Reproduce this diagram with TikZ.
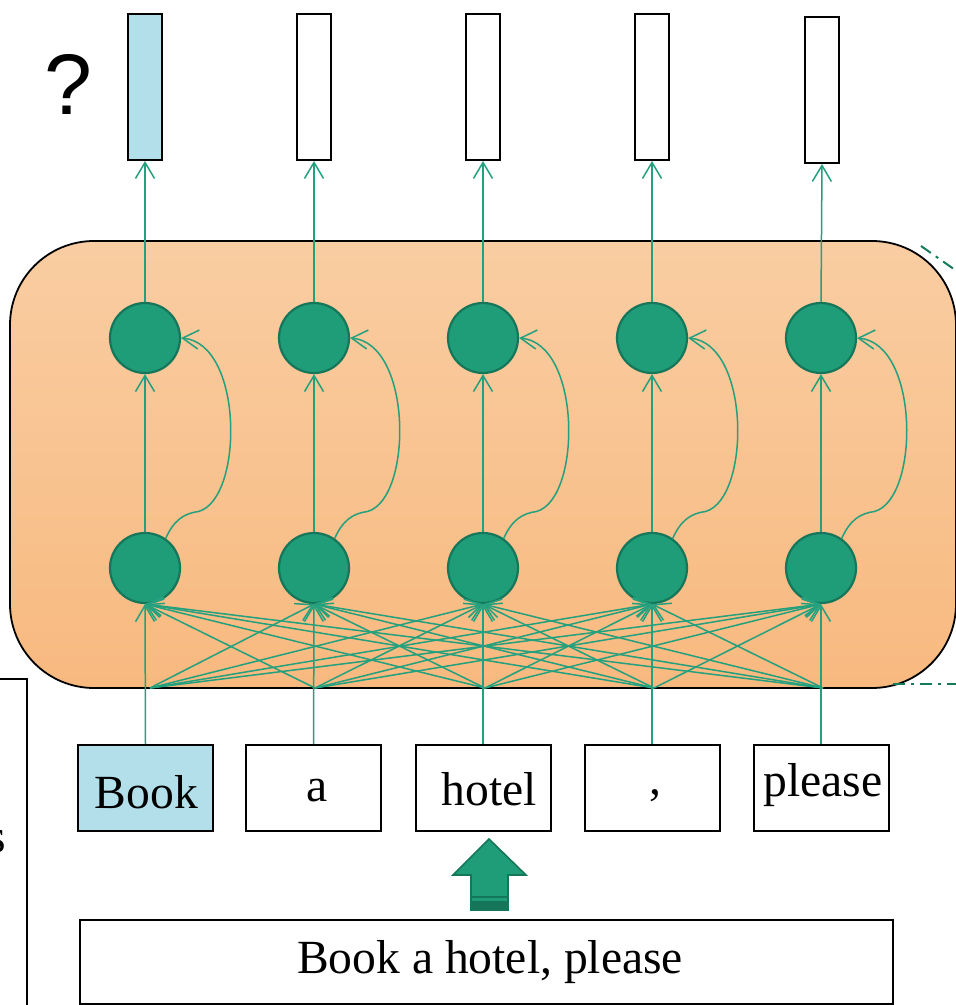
\documentclass[tikz,border=0pt]{standalone}
\usepackage{fontspec}
\setmainfont{Liberation Serif}
\newfontfamily\qsans{Liberation Sans}
\usetikzlibrary{arrows.meta}
\definecolor{lnk}{HTML}{23A07D}
\definecolor{cfill}{HTML}{1F9C78}
\definecolor{cdraw}{HTML}{16765A}
\definecolor{lblue}{HTML}{B2DFEA}
\definecolor{otop}{HTML}{F9CDA2}
\definecolor{obot}{HTML}{F8B97F}
\definecolor{dgreen}{HTML}{157A5A}
\tikzset{
  outbox/.style={draw=black, line width=1pt, minimum width=17pt, minimum height=73pt, inner sep=0pt},
  neuron/.style={circle, draw=cdraw, fill=cfill, line width=1.1pt, minimum size=35pt, inner sep=0pt},
  wordbox/.style={draw=black, line width=1pt, minimum width=67.5pt, minimum height=43pt, inner sep=0pt},
  wordtext/.style={anchor=base, inner sep=0pt, font=\fontsize{23.8}{26}\selectfont},
  conn/.style={draw=lnk, line width=0.75pt, -{Straight Barb[length=8pt,width=9.5pt]}},
  dashdot/.style={draw=dgreen, line width=1pt, dash pattern=on 6pt off 3pt on 1.5pt off 3pt}
}
\begin{document}
\begin{tikzpicture}[x=0.5pt,y=-0.5pt]
\useasboundingbox (0,0) rectangle (955,1005);
% orange panel
\shade[top color=otop, bottom color=obot, draw=black, line width=0.9pt, rounded corners=42pt] (10,241) rectangle (956,688);
\draw[dashdot] (921,246) -- (958,272);
\draw[dashdot] (893,684) -- (958,684);
% left partial box
\draw[black, line width=1pt] (-5,679) -- (27,679) -- (27,1010);
\node[anchor=base east, inner sep=0pt, font=\fontsize{23.8}{26}\selectfont] (sfrag) at (6,852) {s};
% question mark
\node[font=\qsans\fontsize{43}{46}\selectfont, inner sep=0pt] (q) at (68,84) {?};
% output boxes
\node[outbox, fill=lblue] (o1) at (145,87) {};
\node[outbox] (o2) at (314,87) {};
\node[outbox] (o3) at (483,87) {};
\node[outbox] (o4) at (652,87) {};
\node[outbox] (o5) at (822,90) {};
% neurons
\foreach \i/\x in {1/145,2/314,3/483,4/652,5/821}{
  \node[neuron] (t\i) at (\x,338) {};
  \node[neuron] (b\i) at (\x,568) {};
}
% word boxes
\node[wordbox, fill=lblue] (w1) at (145.5,788) {};
\node[wordbox] (w2) at (313.5,788) {};
\node[wordbox] (w3) at (483,788) {};
\node[wordbox] (w4) at (652,788) {};
\node[wordbox] (w5) at (821,788) {};
\node[wordtext] (x1) at (146.5,808) {Book};
\node[wordtext] (x2) at (317,801) {a};
\node[wordtext] (x3) at (489,805) {hotel};
\node[wordtext] (x4) at (655,794) {,};
\node[wordtext] (x5) at (823,796) {please};
% fan-in points
\foreach \i/\x in {1/150,2/315,3/485,4/654,5/823}{
  \coordinate (f\i) at (\x,688);
}
% connections
\foreach \i in {1,...,5}{
  \path[conn] (t\i.north) -- (o\i.south);
  \path[conn] (b\i.north) -- (t\i.south);
  \path[conn] (w\i.north) -- (b\i.south);
  \path[conn] (b\i.55) .. controls ([shift={(8,-18)}]b\i.55) and ([shift={(18,-25)}]b\i.55) .. ([shift={(33,-27)}]b\i.55)
     .. controls ([shift={(78,-40)}]b\i.55) and ([shift={(78,-195)}]b\i.55) .. (t\i.east);
  \foreach \j in {1,...,5}{
    \ifnum\i=\j\else
      \path[conn] (f\i) -- (b\j.south);
    \fi
  }
}
% block arrow
\path[fill=cfill, draw=cdraw, line width=0.8pt] (471,910) -- (471,875) -- (453,875) -- (489,839) -- (526,875) -- (508,875) -- (508,910) -- cycle;
\fill[cdraw] (471,901) rectangle (508,910);
\draw[cdraw, line width=0.6pt] (471,897) -- (508,897);
% bottom box
\node[draw=black, line width=1pt, minimum width=406.5pt, minimum height=42pt, inner sep=0pt] (sent) at (486.5,962) {};
\node[wordtext] (senttext) at (490,973) {Book a hotel, please};
\end{tikzpicture}
\end{document}
